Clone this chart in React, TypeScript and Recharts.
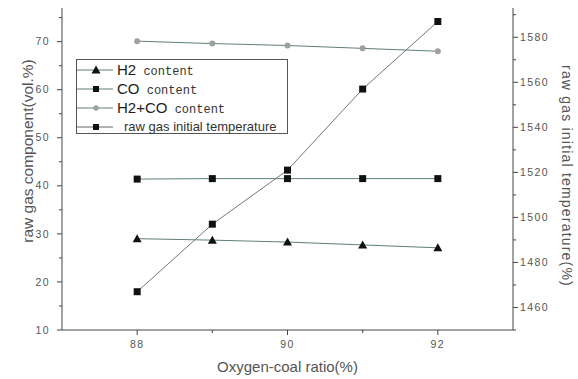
import { ComposedChart, Line, XAxis, YAxis } from "recharts";

const ratios = [88, 89, 90, 91, 92];
const h2Content = [29.0, 28.7, 28.3, 27.7, 27.1];
const coContent = [41.4, 41.5, 41.5, 41.5, 41.5];
const h2coContent = [70.1, 69.6, 69.2, 68.6, 68.0];
const gasTemperature = [1467, 1497, 1521, 1557, 1587];

const xTicks = [88, 89, 90, 91, 92];
const leftTicks = [10, 15, 20, 25, 30, 35, 40, 45, 50, 55, 60, 65, 70, 75];
const rightTicks = [1450, 1460, 1470, 1480, 1490, 1500, 1510, 1520, 1530, 1540, 1550, 1560, 1570, 1580, 1590];

const data = ratios.map((r, i) => ({
  ratio: r,
  h2: h2Content[i],
  co: coContent[i],
  h2co: h2coContent[i],
  temp: gasTemperature[i],
}));

const AXIS = "#444";
const TICK_TEXT = "#555";
const LINE = "#5f8077";
const SANS = "'Liberation Sans', Arial, sans-serif";
const MONO = "'Liberation Mono', 'DejaVu Sans Mono', monospace";

const TICK_SIZE = 5;
const TICK_MARGIN = 7;

function Square({ cx, cy }: any) {
  if (cx == null || cy == null) return null;
  return <rect x={cx - 3.5} y={cy - 3.5} width={7} height={7} fill="#111" />;
}

function Triangle({ cx, cy }: any) {
  if (cx == null || cy == null) return null;
  return <polygon points={`${cx},${cy - 4.5} ${cx - 4.5},${cy + 3.5} ${cx + 4.5},${cy + 3.5}`} fill="#111" />;
}

function GrayDot({ cx, cy }: any) {
  if (cx == null || cy == null) return null;
  return <circle cx={cx} cy={cy} r={3} fill="#a0a0a0" />;
}

// tick labels in the original are small and spaced out
const tickText = { fontSize: 10.5, letterSpacing: 1.4, fill: TICK_TEXT, fontFamily: SANS };

function LeftTick({ x, y, payload }: any) {
  const v = payload.value;
  const major = v % 10 === 0;
  const ax = x + TICK_SIZE + TICK_MARGIN;
  return (
    <g>
      <line x1={ax} x2={ax - (major ? 5 : 3)} y1={y} y2={y} stroke={AXIS} />
      {major && (
        <text x={x} y={y} dy="0.35em" textAnchor="end" {...tickText}>
          {v}
        </text>
      )}
    </g>
  );
}

function RightTick({ x, y, payload }: any) {
  const v = payload.value;
  const major = v % 20 === 0;
  const ax = x - TICK_SIZE - TICK_MARGIN;
  return (
    <g>
      <line x1={ax} x2={ax + (major ? 5 : 3)} y1={y} y2={y} stroke={AXIS} />
      {major && (
        <text x={x - 5} y={y} dy="0.35em" textAnchor="start" {...tickText}>
          {v}
        </text>
      )}
    </g>
  );
}

function BottomTick({ x, y, payload }: any) {
  const v = payload.value;
  const major = v % 2 === 0;
  const ay = y - TICK_SIZE - TICK_MARGIN;
  return (
    <g>
      <line x1={x} x2={x} y1={ay} y2={ay + (major ? 5 : 3)} stroke={AXIS} />
      {major && (
        <text x={x} y={y - 1} dy="0.71em" textAnchor="middle" {...tickText}>
          {v}
        </text>
      )}
    </g>
  );
}

const legendRows = [
  { key: "h2", head: "H2", tail: " content", marker: "triangle" },
  { key: "co", head: "CO", tail: " content", marker: "square" },
  { key: "h2co", head: "H2+CO", tail: " content", marker: "dot" },
  { key: "temp", head: "", tail: "raw gas initial temperature", marker: "square" },
];

function LegendBox() {
  return (
    <div
      style={{
        position: "absolute",
        left: 76,
        top: 59,
        width: 212,
        height: 75,
        border: "1px solid #555",
        background: "#fff",
        boxSizing: "border-box",
      }}
    >
      {legendRows.map((row) => (
        <div key={row.key} style={{ display: "flex", alignItems: "center", height: 19 }}>
          <svg width={40} height={14} style={{ flexShrink: 0 }}>
            <line x1={0} x2={36} y1={7} y2={7} stroke={row.key === "temp" ? "#666" : LINE} />
            {row.marker === "triangle" && <Triangle cx={19} cy={7} />}
            {row.marker === "square" && <rect x={16} y={4} width={6} height={6} fill="#111" />}
            {row.marker === "dot" && <circle cx={19} cy={7} r={2.8} fill="#a0a0a0" />}
          </svg>
          {row.head ? (
            <span style={{ whiteSpace: "nowrap", color: "#222" }}>
              <span style={{ fontFamily: SANS, fontSize: 15 }}>{row.head}</span>
              <span style={{ fontFamily: MONO, fontSize: 12, color: "#333" }}>{row.tail}</span>
            </span>
          ) : (
            <span style={{ fontFamily: SANS, fontSize: 13, color: "#333", marginLeft: 7, whiteSpace: "nowrap" }}>
              {row.tail}
            </span>
          )}
        </div>
      ))}
    </div>
  );
}

export default function App() {
  return (
    <div style={{ position: "absolute", left: 0, top: 0, width: 578, height: 379, background: "#fff" }}>
      <ComposedChart width={578} height={379} data={data} margin={{ top: 8, right: 0, bottom: 0, left: 0 }}>
        <XAxis
          dataKey="ratio"
          type="number"
          domain={[87, 93]}
          ticks={xTicks}
          height={49}
          tickSize={TICK_SIZE}
          tickMargin={TICK_MARGIN}
          tickLine={false}
          tick={BottomTick}
          axisLine={{ stroke: AXIS }}
          label={{
            value: "Oxygen-coal ratio(%)",
            position: "center",
            dy: 12,
            fontSize: 15,
            fill: "#555",
            fontFamily: SANS,
          }}
        />
        <YAxis
          yAxisId="left"
          domain={[10, 77]}
          ticks={leftTicks}
          width={62}
          interval={0}
          tickSize={TICK_SIZE}
          tickMargin={TICK_MARGIN}
          tickLine={false}
          tick={LeftTick}
          axisLine={{ stroke: AXIS }}
          label={{
            value: "raw gas component(vol.%)",
            angle: -90,
            position: "center",
            dx: -4,
            dy: -18,
            fontSize: 15.5,
            fill: "#555",
            fontFamily: SANS,
          }}
        />
        <YAxis
          yAxisId="right"
          orientation="right"
          domain={[1450, 1593]}
          ticks={rightTicks}
          width={65}
          interval={0}
          tickSize={TICK_SIZE}
          tickMargin={TICK_MARGIN}
          tickLine={false}
          tick={RightTick}
          axisLine={{ stroke: AXIS }}
          label={{
            value: "raw gas initial temperature(%)",
            angle: 90,
            position: "center",
            dx: 21,
            dy: 7,
            fontSize: 14,
            letterSpacing: 1.2,
            fill: "#555",
            fontFamily: SANS,
          }}
        />
        <Line yAxisId="left" dataKey="h2co" stroke={LINE} strokeWidth={1} dot={GrayDot} isAnimationActive={false} />
        <Line yAxisId="left" dataKey="co" stroke={LINE} strokeWidth={1} dot={Square} isAnimationActive={false} />
        <Line yAxisId="left" dataKey="h2" stroke={LINE} strokeWidth={1} dot={Triangle} isAnimationActive={false} />
        <Line yAxisId="right" dataKey="temp" stroke="#777" strokeWidth={1} dot={Square} isAnimationActive={false} />
      </ComposedChart>
      <LegendBox />
    </div>
  );
}
